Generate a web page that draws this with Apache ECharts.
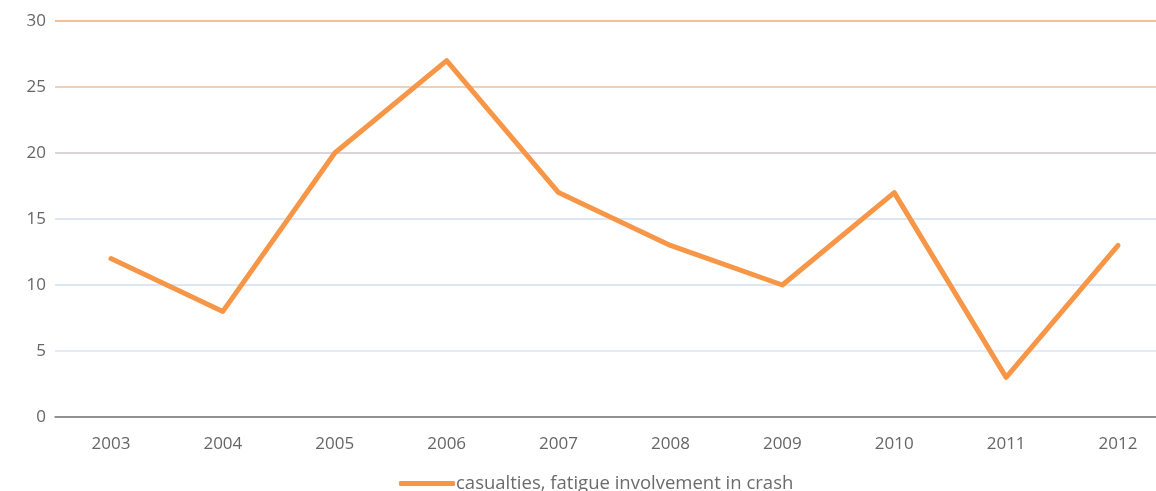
<!DOCTYPE html>
<html>
<head>
<meta charset="utf-8">
<script src="https://cdn.jsdelivr.net/npm/echarts@6/dist/echarts.min.js"></script>
<style>
  html, body { margin: 0; padding: 0; background: #fff; overflow: hidden; }
  #chart { width: 1174px; height: 491px; }
</style>
</head>
<body>
<div id="chart"></div>
<script>
const years = ['2003', '2004', '2005', '2006', '2007', '2008', '2009', '2010', '2011', '2012'];
const casualties = [12, 8, 20, 27, 17, 13, 10, 17, 3, 13];
const seriesName = 'casualties, fatigue involvement in crash';

// grid line colours, from 0 upwards
const gridColors = ['#888888', '#dfe5f3', '#d3ddf0', '#d3ddf0', '#cfc6cb', '#f0bf98', '#f5a86a'];

const chart = echarts.init(document.getElementById('chart'));

chart.setOption({
  animation: false,
  textStyle: { fontFamily: 'Open Sans, Liberation Sans, sans-serif' },
  grid: { left: 55, top: 21, right: 0, bottom: 74 },
  legend: {
    bottom: -7,
    left: 394,
    itemWidth: 56,
    itemHeight: 5,
    itemGap: 0,
    icon: 'roundRect',
    textStyle: { color: '#6b6b6b', fontSize: 18.5, padding: [0, 0, 0, -4] },
    data: [seriesName]
  },
  xAxis: {
    type: 'category',
    data: years,
    boundaryGap: true,
    axisLine: { lineStyle: { color: '#8a8a8a', width: 1.5 } },
    axisTick: { show: false },
    axisLabel: { color: '#666', fontSize: 17, margin: 19 }
  },
  yAxis: {
    type: 'value',
    min: 0,
    max: 30,
    interval: 5,
    axisLine: { show: false },
    axisTick: { show: false },
    axisLabel: { color: '#666', fontSize: 17, margin: 9 },
    splitLine: { lineStyle: { color: gridColors, width: 1.5 } }
  },
  series: [{
    name: seriesName,
    type: 'line',
    data: casualties,
    symbol: 'none',
    lineStyle: { color: '#f79646', width: 5, cap: 'round', join: 'round' },
    itemStyle: { color: '#f79646' }
  }]
});
</script>
</body>
</html>
